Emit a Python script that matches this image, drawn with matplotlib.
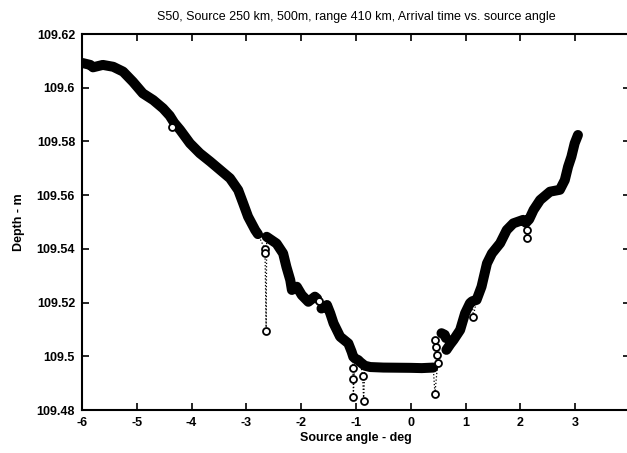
import numpy as np
import matplotlib
matplotlib.use("Agg")
import matplotlib.pyplot as plt

plt.rcParams['font.family'] = ['Liberation Sans', 'DejaVu Sans']
plt.rcParams['axes.unicode_minus'] = False

# traced ray arrivals, in order of source angle
angle = [-5.99, -5.85, -5.80, -5.62, -5.43, -5.25, -5.07, -4.89, -4.70, -4.52,
         -4.40, -4.36, -4.32, -4.21, -4.03, -3.85, -3.66, -3.48, -3.30, -3.15,
         -3.06, -2.97, -2.84, -2.79, -2.66, -2.66, -2.64, -2.63, -2.45, -2.33,
         -2.27, -2.20, -2.17, -2.08, -1.99, -1.87, -1.75, -1.71, -1.67, -1.63,
         -1.53, -1.47, -1.41, -1.29, -1.14, -1.08, -1.05, -1.06, -1.05, -1.05,
         -1.02, -0.96, -0.92, -0.88, -0.86, -0.84, -0.74, -0.50, 0.00, 0.20,
         0.41, 0.44, 0.49, 0.47, 0.46, 0.45, 0.56, 0.62, 0.64, 0.65,
         0.72, 0.78, 0.90, 0.99, 1.08, 1.12, 1.14, 1.20, 1.29, 1.39,
         1.48, 1.63, 1.75, 1.87, 2.05, 2.10, 2.12, 2.12, 2.16, 2.24,
         2.36, 2.54, 2.72, 2.81, 2.87, 2.93, 2.99, 3.05]
depth = [109.6092, 109.6085, 109.6076, 109.6085, 109.6078, 109.6060, 109.6022, 109.5979, 109.5954, 109.5923,
         109.5896, 109.5855, 109.5870, 109.5843, 109.5793, 109.5756, 109.5725, 109.5694, 109.5663, 109.5619,
         109.5570, 109.5520, 109.5470, 109.5455, 109.5398, 109.5385, 109.5095, 109.5445, 109.5420, 109.5383,
         109.5333, 109.5284, 109.5247, 109.5259, 109.5228, 109.5203, 109.5222, 109.5215, 109.5205, 109.5178,
         109.5191, 109.5160, 109.5123, 109.5073, 109.5048, 109.5017, 109.4998, 109.4955, 109.4914, 109.4847,
         109.4992, 109.4986, 109.4978, 109.4928, 109.4834, 109.4965, 109.4960, 109.4958, 109.4957, 109.4956,
         109.4958, 109.4860, 109.4974, 109.5005, 109.5036, 109.5062, 109.5086, 109.5080, 109.5068, 109.5024,
         109.5045, 109.5061, 109.5098, 109.5160, 109.5198, 109.5205, 109.5148, 109.5210, 109.5259, 109.5346,
         109.5383, 109.5421, 109.5470, 109.5495, 109.5508, 109.5497, 109.5470, 109.5439, 109.5510, 109.5545,
         109.5582, 109.5613, 109.5620, 109.5656, 109.5706, 109.5743, 109.5793, 109.5824]
# 1 = isolated arrival off the main branch
dropout = [0, 0, 0, 0, 0, 0, 0, 0, 0, 0,
           0, 1, 0, 0, 0, 0, 0, 0, 0, 0,
           0, 0, 0, 0, 1, 1, 1, 0, 0, 0,
           0, 0, 0, 0, 0, 0, 0, 0, 1, 0,
           0, 0, 0, 0, 0, 0, 0, 1, 1, 1,
           0, 0, 0, 1, 1, 0, 0, 0, 0, 0,
           0, 1, 1, 1, 1, 1, 0, 0, 0, 0,
           0, 0, 0, 0, 0, 0, 1, 0, 0, 0,
           0, 0, 0, 0, 0, 0, 1, 1, 0, 0,
           0, 0, 0, 0, 0, 0, 0, 0]
# angles where the main branch is broken
branch_gaps = [-2.70, -1.67, 0.45, 0.645]

x = np.array(angle)
y = np.array(depth)
off = np.array(dropout, dtype=bool)

# main branch: on-branch points, with breaks inserted at the gaps
bx = list(x[~off])
by = list(y[~off])
for g in sorted(branch_gaps, reverse=True):
    i = int(np.searchsorted(bx, g))
    bx.insert(i, g)
    by.insert(i, np.nan)

fig = plt.figure(figsize=(6.27, 4.53), dpi=100)
ax = fig.add_axes([0.1308, 0.0949, 0.874, 0.830])

ax.plot(x, y, ':', color='black', lw=0.9, zorder=1)
ax.plot(bx, by, '-', color='black', lw=7.2, solid_capstyle='round',
        solid_joinstyle='round', zorder=2)
ax.plot(x[off], y[off], 'o', mfc='white', mec='black', ms=5, mew=1.3, zorder=3)

ax.set_xlim(-6, 4)
ax.set_ylim(109.48, 109.62)
ax.set_xticks(np.arange(-6, 5, 1))
yt = [109.48, 109.5, 109.52, 109.54, 109.56, 109.58, 109.6, 109.62]
ax.set_yticks(yt)
ax.set_yticklabels(['%g' % v for v in yt])
ax.tick_params(direction='in', length=5, width=1.2, labelsize=9, pad=5,
               top=True, right=True)
for t in ax.get_xticklabels() + ax.get_yticklabels():
    t.set_fontweight('bold')
for s in ax.spines.values():
    s.set_linewidth(1.5)

ax.set_xlabel('Source angle - deg', fontsize=9, fontweight='bold', labelpad=2)
ax.set_ylabel('Depth - m', fontsize=9, fontweight='bold', labelpad=8)
ax.set_title('S50, Source 250 km, 500m, range 410 km, Arrival time vs. source angle',
             fontsize=9, pad=10)

fig.savefig('out.png', dpi=100)
